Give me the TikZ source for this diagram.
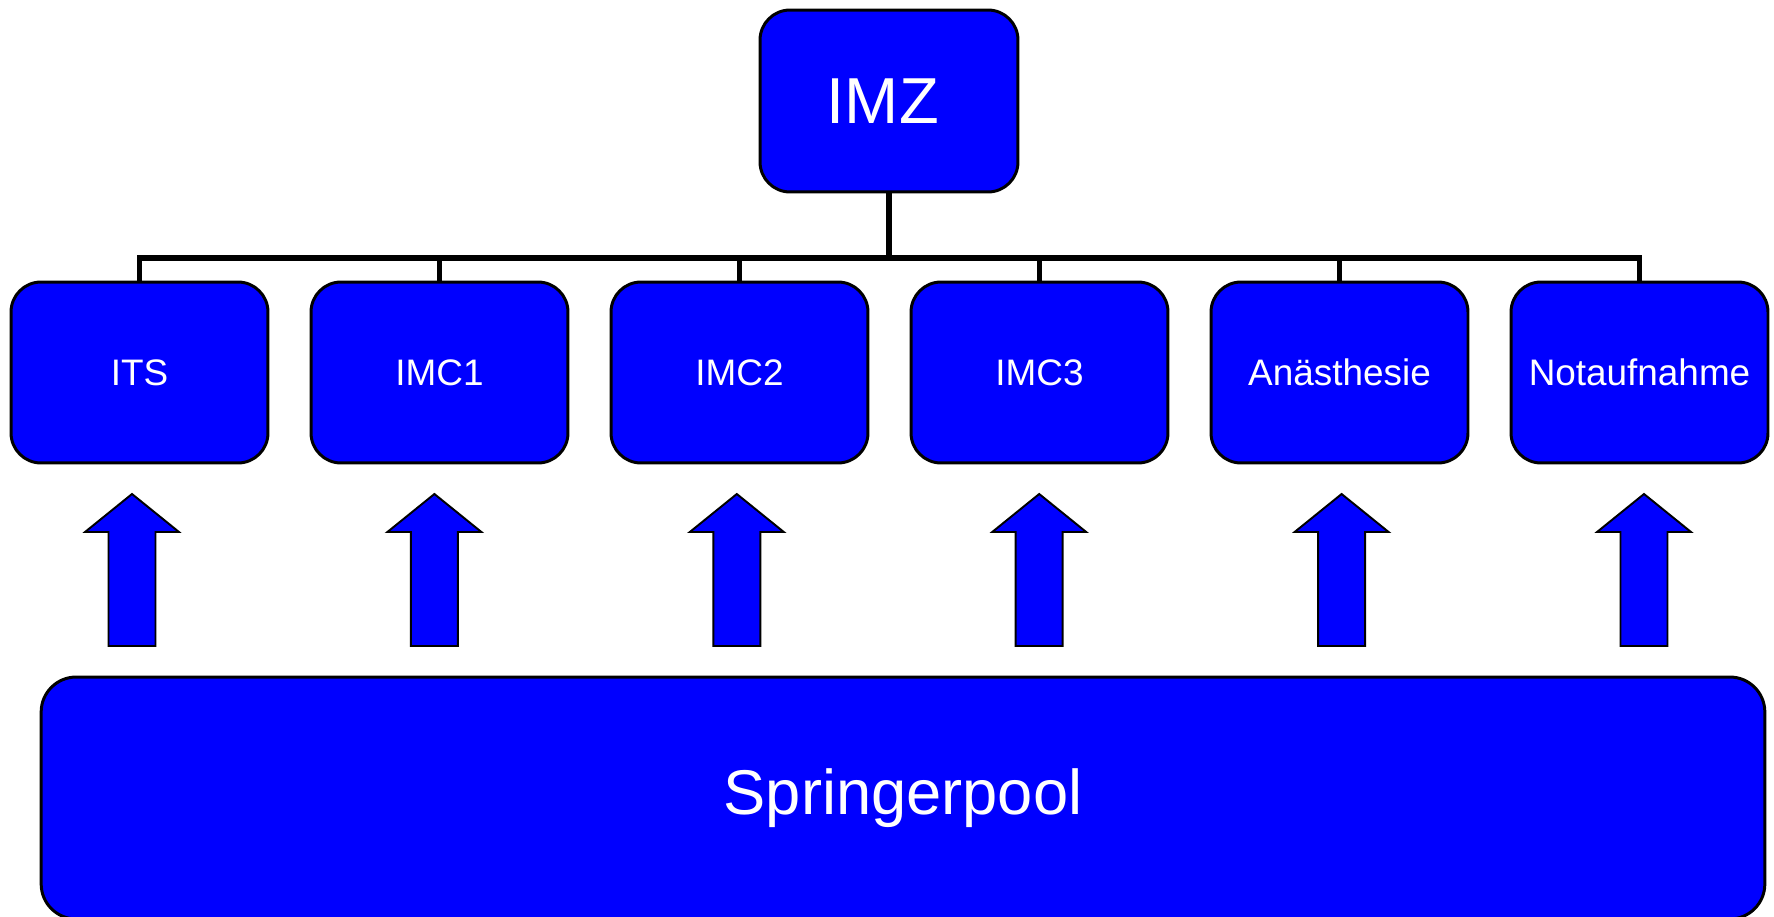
\documentclass[tikz,border=0pt]{standalone}
\usepackage{fontspec}
\setmainfont{Liberation Sans}
\definecolor{unitblue}{RGB}{0,0,255}

\begin{document}
\begin{tikzpicture}[x=0.02cm,y=-0.02cm,
					line join=miter,
					unit box/.style={rectangle,rounded corners=0.6cm,draw=black,line width=1.7pt,
						fill=unitblue,text=white,minimum width=5.14cm,minimum height=3.62cm,
						font=\fontsize{21}{25}\selectfont},
					big box/.style={unit box,font=\fontsize{36}{43}\selectfont},
					bus line/.style={draw=black,line width=3pt},
					supply arrow/.style={draw=black,line width=1.1pt,fill=unitblue}]

  \useasboundingbox (0,0) rectangle (1774,916);

  \node[big box,minimum width=5.16cm,minimum height=3.64cm,font=\fontsize{37}{44}\selectfont] (IMZ) at (889,101) {IMZ\kern0.25cm\relax};

  \node[unit box] (ITS)  at (139.5,372.5) {ITS};
  \node[unit box] (IMC1) at (439.5,372.5) {IMC1};
  \node[unit box] (IMC2) at (739.5,372.5) {IMC2};
  \node[unit box] (IMC3) at (1039.5,372.5) {IMC3};
  \node[unit box] (AN)   at (1339.5,372.5) {Anästhesie};
  \node[unit box] (NA)   at (1639.5,372.5) {Notaufnahme};

  \node[big box,rounded corners=0.7cm,minimum width=34.48cm,minimum height=4.84cm] (pool) at (903,798) {Springerpool};

  % Baum
  \coordinate (bus) at (889,258);
  \draw[bus line] (IMZ.south) -- (bus);
  \foreach \u in {ITS,IMC1,IMC2,IMC3,AN,NA}
    \draw[bus line] (bus) -| (\u.north);

  % Pfeile vom Pool
  \foreach \i in {0,...,5}
    \draw[supply arrow] ({132+302.4*\i},494) -- ++(47,38) -- ++(-23.5,0) -- ++(0,114)
      -- ++(-47,0) -- ++(0,-114) -- ++(-23.5,0) -- cycle;
\end{tikzpicture}
\end{document}
